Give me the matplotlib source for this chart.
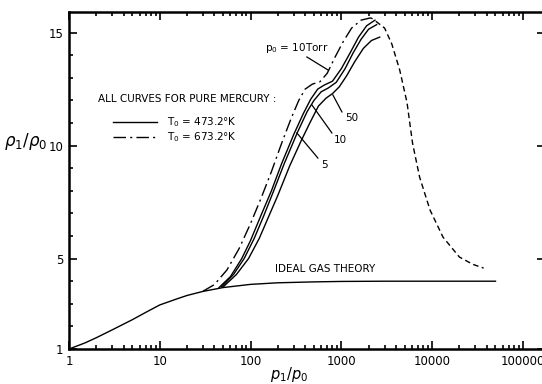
import matplotlib
matplotlib.use("Agg")
import matplotlib.pyplot as plt
from matplotlib.ticker import FixedLocator, FixedFormatter, LogLocator, NullFormatter

# ideal gas theory curve
ideal_x = [1, 1.5, 2, 3, 5, 7, 10, 15, 20, 30, 50, 100, 200, 500, 1000, 3000, 10000, 50000]
ideal_y = [1.0, 1.27, 1.5, 1.85, 2.3, 2.62, 2.95, 3.2, 3.37, 3.55, 3.72, 3.86, 3.93, 3.97, 3.99, 4.0, 4.0, 4.0]

# T0 = 673.2 K, p0 = 10 Torr (dash-dot)
hot_x = [30, 40, 55, 75, 100, 130, 170, 220, 280, 340, 400, 480, 580, 700, 850, 1050, 1300, 1650, 2100, 2400]
hot_y = [3.56, 3.85, 4.5, 5.45, 6.55, 7.65, 8.85, 10.1, 11.2, 12.0, 12.5, 12.72, 12.82, 13.2, 13.9, 14.6, 15.2, 15.55, 15.65, 15.55]

# T0 = 473.2 K, p0 = 5, 10, 50 Torr (solid)
p5_x = [45, 60, 80, 100, 130, 170, 220, 300, 380, 460, 550, 650, 800, 1000, 1250, 1550, 1900, 2350]
p5_y = [3.72, 4.2, 5.0, 5.8, 6.9, 8.0, 9.2, 10.5, 11.4, 12.05, 12.5, 12.68, 12.85, 13.4, 14.1, 14.8, 15.3, 15.55]

p10_x = [48, 65, 85, 110, 140, 180, 235, 330, 420, 500, 600, 720, 880, 1100, 1350, 1650, 2000, 2450]
p10_y = [3.75, 4.3, 5.0, 5.9, 6.9, 8.0, 9.2, 10.6, 11.5, 12.0, 12.38, 12.55, 12.8, 13.4, 14.1, 14.7, 15.15, 15.35]

p50_x = [50, 70, 95, 125, 160, 200, 270, 360, 450, 560, 680, 800, 950, 1150, 1400, 1750, 2150, 2650]
p50_y = [3.75, 4.3, 5.0, 5.9, 6.9, 7.8, 9.1, 10.2, 11.0, 11.75, 12.1, 12.3, 12.6, 13.1, 13.7, 14.3, 14.65, 14.8]

# dashed fall-off beyond the peak
fall_x = [2400, 3000, 3600, 4400, 5300, 6100, 7300, 9500, 13200, 20000, 28000, 37000]
fall_y = [15.5, 15.2, 14.5, 13.35, 11.9, 10.1, 8.6, 7.15, 5.95, 5.07, 4.75, 4.58]

xticks = [1, 10, 100, 1000, 10000, 100000]
xtick_labels = ["1", "10", "100", "1000", "10000", "100000"]
yticks = [1, 5, 10, 15]
ytick_labels = ["1", "5", "10", "15"]

plt.rcParams["font.family"] = "DejaVu Sans"

fig = plt.figure(figsize=(5.42, 3.84), dpi=100)
ax = fig.add_axes([0.1273, 0.0911, 0.878, 0.8776])

lw = 1.0
dashdot = (0, (9, 3, 1.5, 3))
ax.plot(ideal_x, ideal_y, color="black", lw=lw)
ax.plot(p5_x, p5_y, color="black", lw=lw)
ax.plot(p10_x, p10_y, color="black", lw=lw)
ax.plot(p50_x, p50_y, color="black", lw=lw)
ax.plot(hot_x, hot_y, color="black", lw=lw, linestyle=dashdot)
ax.plot(fall_x, fall_y, color="black", lw=lw, linestyle=(0, (4, 2.5)))

ax.set_xscale("log")
ax.set_xlim(1, 1.75e5)
ax.set_ylim(1, 15.91)

ax.xaxis.set_major_locator(FixedLocator(xticks))
ax.xaxis.set_major_formatter(FixedFormatter(xtick_labels))
ax.xaxis.set_minor_locator(LogLocator(base=10, subs=range(2, 10), numticks=20))
ax.xaxis.set_minor_formatter(NullFormatter())
ax.yaxis.set_major_locator(FixedLocator(yticks))
ax.yaxis.set_major_formatter(FixedFormatter(ytick_labels))
ax.yaxis.set_minor_locator(FixedLocator(range(2, 16)))

ax.tick_params(which="both", direction="in", top=True, right=False, labelsize=8.5, width=1.2)
ax.tick_params(which="major", length=6, pad=4)
ax.tick_params(which="minor", length=3)
ax.tick_params(axis="y", which="major", right=True)
for s in ["left", "bottom", "top"]:
    ax.spines[s].set_linewidth(1.8)
ax.spines["right"].set_visible(False)

ax.set_xlabel(r"$p_1/p_0$", fontsize=10.5)
ax.xaxis.set_label_coords(0.462, -0.047)
ax.set_ylabel(r"$\rho_1/\rho_0$", fontsize=12, rotation=0)
ax.yaxis.set_label_coords(-0.092, 0.585)

# annotations
fs = 7.5
ax.text(144, 14.32, r"p$_0$ = 10Torr", fontsize=fs, va="center")
ax.plot([418, 711], [13.92, 13.35], color="black", lw=0.9)
ax.text(2.09, 12.06, "ALL CURVES FOR PURE MERCURY :", fontsize=fs, va="center")
ax.plot([3.05, 9.31], [11.04, 11.04], color="black", lw=lw)
ax.text(12.0, 11.04, "T$_0$ = 473.2°K", fontsize=fs, va="center")
ax.plot([3.05, 9.31], [10.38, 10.38], color="black", lw=lw, linestyle=dashdot)
ax.text(12.0, 10.38, "T$_0$ = 673.2°K", fontsize=fs, va="center")

ax.text(1309, 11.22, "50", fontsize=fs, ha="center", va="center")
ax.plot([1016, 808], [11.49, 12.24], color="black", lw=0.9)
ax.text(966, 10.25, "10", fontsize=fs, ha="center", va="center")
ax.plot([788, 474], [10.56, 11.8], color="black", lw=0.9)
ax.text(660, 9.14, "5", fontsize=fs, ha="center", va="center")
ax.plot([552, 324], [9.45, 10.56], color="black", lw=0.9)

ax.text(186, 4.54, "IDEAL GAS THEORY", fontsize=fs, va="center")

fig.savefig("out.png", dpi=100)
